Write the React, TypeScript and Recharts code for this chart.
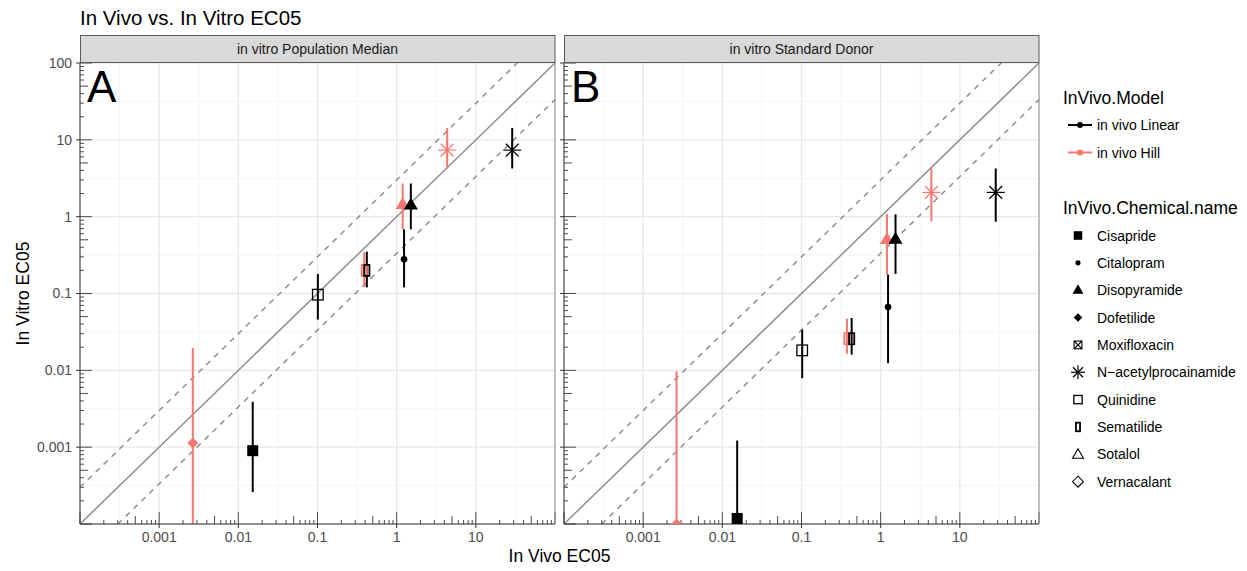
import { ScatterChart, Scatter, XAxis, YAxis, ReferenceLine, ErrorBar } from 'recharts'

const RED = '#F8766D'
const FONT = '"Liberation Sans", Arial, Helvetica, sans-serif'

const X_TICKS = [0.001, 0.01, 0.1, 1, 10]
const Y_TICKS = [0.001, 0.01, 0.1, 1, 10, 100]
const MAJOR_GRID = [0.0001, 0.001, 0.01, 0.1, 1, 10, 100]
const MINOR_GRID = [0.000316, 0.00316, 0.0316, 0.316, 3.16, 31.6]
const DECADES = [0.0001, 0.001, 0.01, 0.1, 1, 10]
const LOG_STEPS = [1, 2, 3, 4, 5, 6, 7, 8, 9]

const CHEMICALS = [
  'Cisapride', 'Citalopram', 'Disopyramide', 'Dofetilide', 'Moxifloxacin',
  'N−acetylprocainamide', 'Quinidine', 'Sematilide', 'Sotalol', 'Vernacalant',
]
const MODELS = ['in vivo Linear', 'in vivo Hill']
const PANELS = ['in vitro Population Median', 'in vitro Standard Donor']

// in vitro Population Median
const medianHill = [
  { chem: 'Dofetilide', x: 0.00266, y: 0.00113, lo: 0.00001, hi: 0.0195 },
  { chem: 'Sematilide', x: 0.39, y: 0.2, lo: 0.121, hi: 0.348 },
  { chem: 'Disopyramide', x: 1.19, y: 1.44, lo: 0.685, hi: 2.7 },
  { chem: 'N−acetylprocainamide', x: 4.35, y: 7.35, lo: 4.24, hi: 14.3 },
]
const medianLinear = [
  { chem: 'Cisapride', x: 0.0152, y: 0.0009, lo: 0.00026, hi: 0.0039 },
  { chem: 'Quinidine', x: 0.101, y: 0.0966, lo: 0.0457, hi: 0.18 },
  { chem: 'Sematilide', x: 0.42, y: 0.2, lo: 0.12, hi: 0.35 },
  { chem: 'Citalopram', x: 1.24, y: 0.279, lo: 0.12, hi: 0.685 },
  { chem: 'Disopyramide', x: 1.51, y: 1.42, lo: 0.685, hi: 2.7 },
  { chem: 'N−acetylprocainamide', x: 28.8, y: 7.35, lo: 4.24, hi: 14.3 },
]

// in vitro Standard Donor
const donorHill = [
  { chem: 'Dofetilide', x: 0.00264, y: 0.0001, lo: 0.000001, hi: 0.0097 },
  { chem: 'Sematilide', x: 0.375, y: 0.0258, lo: 0.0165, hi: 0.047 },
  { chem: 'Disopyramide', x: 1.2, y: 0.503, lo: 0.176, hi: 1.08 },
  { chem: 'N−acetylprocainamide', x: 4.37, y: 2.07, lo: 0.87, hi: 4.24 },
]
const donorLinear = [
  { chem: 'Cisapride', x: 0.0154, y: 0.000118, lo: 0.00001, hi: 0.00122 },
  { chem: 'Quinidine', x: 0.102, y: 0.0182, lo: 0.0079, hi: 0.0338 },
  { chem: 'Sematilide', x: 0.43, y: 0.0258, lo: 0.016, hi: 0.048 },
  { chem: 'Citalopram', x: 1.24, y: 0.0667, lo: 0.0124, hi: 0.176 },
  { chem: 'Disopyramide', x: 1.54, y: 0.51, lo: 0.18, hi: 1.07 },
  { chem: 'N−acetylprocainamide', x: 28.4, y: 2.07, lo: 0.86, hi: 4.24 },
]

type Row = { chem: string; x: number; y: number; lo: number; hi: number }

const withErr = (rows: Row[]) => rows.map(r => ({ ...r, err: [r.y - r.lo, r.hi - r.y] }))

// annotation_logticks style: long at 10^k, mid at 5x10^k, short elsewhere
const LOG_TICKS = [
  ...DECADES.flatMap(d => LOG_STEPS.map(s => ({ v: d * s, len: s === 1 ? 12 : s === 5 ? 8 : 4 }))),
  { v: 100, len: 12 },
]

// both charts share the same plot rect in their own svg space
const CHART_W = 530
const CHART_H = 571
const MARGIN = { top: 63, right: 5, bottom: 17, left: 0 }
const Y_AXIS_W = 50
const X_AXIS_H = 30

function Marker({ chem, cx, cy, color, k = 1 }: { chem: string; cx: number; cy: number; color: string; k?: number }) {
  switch (chem) {
    case 'Cisapride': {
      const s = 5.5 * k
      return <rect x={cx - s} y={cy - s} width={2 * s} height={2 * s} fill={color} />
    }
    case 'Citalopram':
      return <circle cx={cx} cy={cy} r={3.3 * k} fill={color} />
    case 'Disopyramide': {
      const w = 7 * k
      return <polygon points={`${cx},${cy - 7.5 * k} ${cx - w},${cy + 4.5 * k} ${cx + w},${cy + 4.5 * k}`} fill={color} />
    }
    case 'Dofetilide': {
      const s = 5.5 * k
      return <polygon points={`${cx},${cy - s} ${cx + s},${cy} ${cx},${cy + s} ${cx - s},${cy}`} fill={color} />
    }
    case 'Moxifloxacin': {
      const s = 5 * k
      return (
        <g stroke={color} strokeWidth={1.1} fill="none">
          <rect x={cx - s} y={cy - s} width={2 * s} height={2 * s} />
          <line x1={cx - s} y1={cy - s} x2={cx + s} y2={cy + s} />
          <line x1={cx - s} y1={cy + s} x2={cx + s} y2={cy - s} />
        </g>
      )
    }
    case 'N−acetylprocainamide': {
      const r = 9 * k
      const d = 6.4 * k
      return (
        <g stroke={color} strokeWidth={1.2}>
          <line x1={cx - r} y1={cy} x2={cx + r} y2={cy} />
          <line x1={cx} y1={cy - r} x2={cx} y2={cy + r} />
          <line x1={cx - d} y1={cy - d} x2={cx + d} y2={cy + d} />
          <line x1={cx - d} y1={cy + d} x2={cx + d} y2={cy - d} />
        </g>
      )
    }
    case 'Quinidine': {
      const s = 5.3 * k
      return <rect x={cx - s} y={cy - s} width={2 * s} height={2 * s} fill="none" stroke={color} strokeWidth={1.3} />
    }
    case 'Sematilide':
      return <rect x={cx - 2.6 * k} y={cy - 5.5 * k} width={5.2 * k} height={11 * k} fill="none" stroke={color} strokeWidth={1.8} />
    case 'Sotalol': {
      const w = 7 * k
      return <polygon points={`${cx},${cy - 7 * k} ${cx - w},${cy + 5 * k} ${cx + w},${cy + 5 * k}`} fill="none" stroke={color} strokeWidth={1.1} />
    }
    case 'Vernacalant': {
      const s = 7 * k
      return <polygon points={`${cx},${cy - s} ${cx + s},${cy} ${cx},${cy + s} ${cx - s},${cy}`} fill="none" stroke={color} strokeWidth={1.1} />
    }
    default:
      return <g />
  }
}

const hillShape = (p: any) => <Marker chem={p.payload.chem} cx={p.cx} cy={p.cy} color={RED} />
const linearShape = (p: any) => <Marker chem={p.payload.chem} cx={p.cx} cy={p.cy} color="#000" />

const tickStyle = { fill: '#4d4d4d', fontSize: 14, fontFamily: FONT }

function Panel({ hill, linear, showY }: { hill: Row[]; linear: Row[]; showY: boolean }) {
  return (
    <ScatterChart width={CHART_W} height={CHART_H} margin={MARGIN}>
      <XAxis
        type="number" dataKey="x" scale="log" domain={[0.0001, 100]} allowDataOverflow
        ticks={X_TICKS} interval={0} tick={tickStyle} tickSize={4} tickMargin={4} height={X_AXIS_H}
        axisLine={{ stroke: '#333' }} tickLine={{ stroke: '#333' }}
      />
      <YAxis
        type="number" dataKey="y" scale="log" domain={[0.0001, 100]} allowDataOverflow
        ticks={Y_TICKS} interval={0} tick={tickStyle} tickSize={4} tickMargin={4} width={Y_AXIS_W}
        tickFormatter={(v) => (showY ? String(v) : '')}
        axisLine={{ stroke: '#333' }} tickLine={{ stroke: '#333' }}
      />
      {MINOR_GRID.map(v => <ReferenceLine key={'mx' + v} x={v} stroke="#f2f2f2" strokeWidth={0.8} />)}
      {MINOR_GRID.map(v => <ReferenceLine key={'my' + v} y={v} stroke="#f2f2f2" strokeWidth={0.8} />)}
      {MAJOR_GRID.map(v => <ReferenceLine key={'gx' + v} x={v} stroke="#e8e8e8" strokeWidth={1.3} />)}
      {MAJOR_GRID.map(v => <ReferenceLine key={'gy' + v} y={v} stroke="#e8e8e8" strokeWidth={1.3} />)}
      {LOG_TICKS.map(t => (
        <ReferenceLine
          key={'tx' + t.v} x={t.v}
          shape={(p: any) => {
            const b = Math.max(p.y1, p.y2)
            return <line x1={p.x1} x2={p.x1} y1={b} y2={b - t.len} stroke="#4d4d4d" strokeWidth={1} />
          }}
        />
      ))}
      {LOG_TICKS.map(t => (
        <ReferenceLine
          key={'ty' + t.v} y={t.v}
          shape={(p: any) => {
            const l = Math.min(p.x1, p.x2)
            return <line x1={l} x2={l + t.len} y1={p.y1} y2={p.y1} stroke="#4d4d4d" strokeWidth={1} />
          }}
        />
      ))}
      <ReferenceLine segment={[{ x: 0.0001, y: 0.0001 }, { x: 100, y: 100 }]} stroke="#8f8f8f" strokeWidth={1.5} />
      <ReferenceLine segment={[{ x: 0.0001, y: 0.0003 }, { x: 33.33, y: 100 }]} stroke="#8f8f8f" strokeWidth={1.5} strokeDasharray="5.5 5.5" />
      <ReferenceLine segment={[{ x: 0.0003, y: 0.0001 }, { x: 100, y: 33.33 }]} stroke="#8f8f8f" strokeWidth={1.5} strokeDasharray="5.5 5.5" />
      <Scatter data={withErr(hill)} shape={hillShape} isAnimationActive={false} className="plot-clip">
        <ErrorBar dataKey="err" direction="y" width={0} stroke={RED} strokeWidth={2} isAnimationActive={false} />
      </Scatter>
      <Scatter data={withErr(linear)} shape={linearShape} isAnimationActive={false} className="plot-clip">
        <ErrorBar dataKey="err" direction="y" width={0} stroke="#000" strokeWidth={2} isAnimationActive={false} />
      </Scatter>
    </ScatterChart>
  )
}

export default function App() {
  const plotX = MARGIN.left + Y_AXIS_W
  const plotW = CHART_W - MARGIN.right - plotX
  const plotH = CHART_H - MARGIN.bottom - X_AXIS_H - MARGIN.top
  return (
    <div style={{ position: 'absolute', left: 0, top: 0, width: 1247, height: 571, background: '#fff', fontFamily: FONT }}>
      <style>{`.plot-clip, .recharts-errorBar { clip-path: url(#plotClip); }`}</style>
      <svg width={0} height={0} style={{ position: 'absolute' }}>
        <defs>
          <clipPath id="plotClip" clipPathUnits="userSpaceOnUse">
            <rect x={plotX} y={MARGIN.top} width={plotW} height={plotH} />
          </clipPath>
        </defs>
      </svg>
      <div style={{ position: 'absolute', left: 30, top: 0 }}>
        <Panel hill={medianHill} linear={medianLinear} showY />
      </div>
      <div style={{ position: 'absolute', left: 514, top: 0 }}>
        <Panel hill={donorHill} linear={donorLinear} showY={false} />
      </div>
      <svg width={1247} height={571} style={{ position: 'absolute', left: 0, top: 0, pointerEvents: 'none' }} fontFamily={FONT}>
        <text x={80} y={24.5} fontSize={20.5} fill="#000">In Vivo vs. In Vitro EC05</text>
        {PANELS.map((p, i) => {
          const x0 = i === 0 ? 80 : 564
          return (
            <g key={p}>
              <rect x={x0 + 0.5} y={35.5} width={474.5} height={27} fill="#d9d9d9" stroke="#5a5a5a" strokeWidth={1} />
              <text x={x0 + 237.5} y={53.5} fontSize={14} fill="#1a1a1a" textAnchor="middle">{p}</text>
              <line x1={x0 + 475} x2={x0 + 475} y1={63} y2={524} stroke="#8f8f8f" strokeWidth={1} />
            </g>
          )
        })}
        <text x={87} y={101.5} fontSize={44} fill="#000">A</text>
        <text x={571} y={101.5} fontSize={44} fill="#000">B</text>
        <text x={559.5} y={561.5} fontSize={17.5} textAnchor="middle" fill="#000">In Vivo EC05</text>
        <text x={28.5} y={293.5} fontSize={17.5} textAnchor="middle" fill="#000" transform="rotate(-90, 28.5, 293.5)">In Vitro EC05</text>

        <text x={1063} y={104} fontSize={17.5} fill="#000">InVivo.Model</text>
        {MODELS.map((m, i) => {
          const y = 125 + i * 27.5
          const c = i === 0 ? '#000' : RED
          return (
            <g key={m}>
              <line x1={1068} x2={1092} y1={y} y2={y} stroke={c} strokeWidth={2} />
              <circle cx={1080} cy={y} r={3} fill={c} />
              <text x={1097} y={y + 5} fontSize={14} fill="#000">{m}</text>
            </g>
          )
        })}
        <text x={1063} y={214} fontSize={17.5} fill="#000">InVivo.Chemical.name</text>
        {CHEMICALS.map((c, i) => {
          const y = 235.5 + i * 27.35
          return (
            <g key={c}>
              <Marker chem={c} cx={1078} cy={y} color="#000" k={0.78} />
              <text x={1097} y={y + 5} fontSize={14} fill="#000">{c}</text>
            </g>
          )
        })}
      </svg>
    </div>
  )
}
